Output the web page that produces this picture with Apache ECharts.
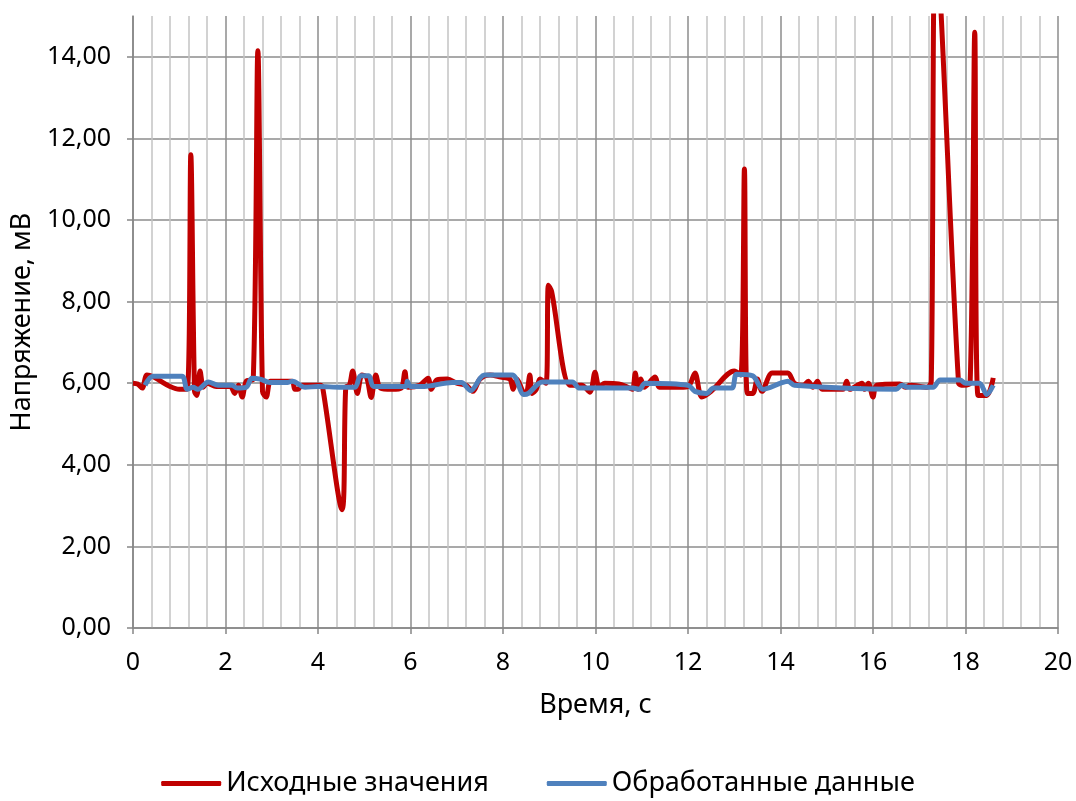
<!DOCTYPE html>
<html lang="ru">
<head>
  <meta charset="UTF-8">
  <title>Напряжение</title>
  <style>
    html, body { margin: 0; padding: 0; background: #fff; }
    #chart { width: 1076px; height: 801px; }
  </style>
</head>
<body>
  <div id="chart"></div>
  <script src="https://cdn.jsdelivr.net/npm/echarts@6/dist/echarts.min.js"></script>
  <script>
    // исходные значения (время, с / напряжение, мВ)
    var rawTime = [0.0, 0.1, 0.2, 0.3, 0.45, 0.6, 0.8, 1.0, 1.17, 1.25, 1.33, 1.38, 1.45, 1.52, 1.6, 1.8,
      2.1, 2.2, 2.28, 2.36, 2.45, 2.6, 2.7, 2.8, 2.88, 2.97, 3.1, 3.44, 3.5, 3.57, 3.65, 3.9, 4.05, 4.1,
      4.52, 4.6, 4.68, 4.75, 4.85, 4.95, 5.05, 5.15, 5.25, 5.35, 5.6, 5.8, 5.88, 5.95, 6.2, 6.38, 6.45,
      6.57, 6.8, 7.0, 7.2, 7.35, 7.5, 7.72, 7.95, 8.15, 8.22, 8.3, 8.43, 8.5, 8.58, 8.63, 8.72, 8.8, 8.93,
      8.98, 9.05, 9.45, 9.7, 9.88, 9.99, 10.08, 10.2, 10.5, 10.7, 10.8, 10.86, 10.92, 10.98, 11.05, 11.29,
      11.38, 11.7, 12.0, 12.15, 12.3, 12.5, 13.0, 13.14, 13.22, 13.28, 13.4, 13.5, 13.6, 13.82, 14.16, 14.3,
      14.5, 14.6, 14.7, 14.8, 14.9, 15.35, 15.43, 15.5, 15.76, 15.82, 15.9, 16.0, 16.08, 16.58, 16.7, 16.8,
      17.17, 17.26, 17.36, 17.85, 17.95, 18.1, 18.2, 18.27, 18.46, 18.6];
    var rawVolt = [6.0, 5.98, 5.88, 6.2, 6.15, 6.05, 5.92, 5.85, 5.85, 11.6, 5.8, 5.7, 6.3, 5.9, 6.0, 5.92,
      5.92, 5.75, 5.95, 5.66, 6.05, 6.1, 14.15, 5.8, 5.66, 6.05, 6.05, 6.05, 5.85, 5.85, 5.95, 5.95, 5.95, 5.9,
      2.9, 5.9, 5.95, 6.3, 5.75, 6.2, 6.15, 5.65, 6.2, 5.88, 5.85, 5.88, 6.28, 5.9, 5.95, 6.12, 5.85,
      6.08, 6.1, 6.0, 5.95, 5.8, 6.1, 6.2, 6.15, 6.1, 5.85, 6.1, 5.8, 5.75, 6.2, 5.75, 5.85, 6.1, 6.0,
      8.4, 8.25, 5.95, 5.95, 5.78, 6.27, 5.9, 6.0, 5.98, 5.9, 5.85, 6.25, 5.85, 6.1, 5.9, 6.15,
      5.9, 5.9, 5.92, 6.25, 5.66, 5.8, 6.3, 6.2, 11.25, 5.75, 5.75, 6.1, 5.8, 6.25, 6.25, 6.0,
      5.95, 6.05, 5.9, 6.05, 5.85, 5.85, 6.05, 5.85, 6.0, 5.85, 6.0, 5.66, 5.95, 5.98, 5.9, 5.95,
      5.9, 6.05, 16.8, 6.0, 5.95, 6.0, 14.6, 5.7, 5.7, 6.13];

    // обработанные данные
    var procTime = [0.26, 0.43, 1.06, 1.17, 1.3, 1.4, 1.63, 1.84, 2.14, 2.25, 2.45, 2.57, 2.75, 2.96, 3.35,
      3.45, 3.72, 4.0, 4.5, 4.8, 4.92, 5.1, 5.2, 5.9, 5.93, 6.0, 6.3, 6.9, 7.1, 7.3, 7.6, 8.2, 8.45, 8.55,
      8.85, 9.5, 9.65, 10.8, 10.95, 11.07, 12.0, 12.15, 12.4, 12.55, 12.95, 13.05, 13.4, 13.62, 14.0, 14.16,
      14.3, 16.5, 16.62, 16.75, 17.3, 17.45, 17.88, 18.0, 18.3, 18.46, 18.6];
    var procVolt = [5.95, 6.17, 6.17, 5.85, 5.9, 5.85, 6.03, 5.95, 5.95, 5.88, 5.9, 6.12, 6.1, 6.02, 6.02,
      6.05, 5.9, 5.92, 5.9, 5.9, 6.18, 6.18, 5.92, 5.92, 6.05, 5.92, 5.92, 6.02, 6.02, 5.82, 6.2, 6.2, 5.72, 5.75,
      6.03, 6.03, 5.88, 5.88, 5.85, 6.0, 5.95, 5.8, 5.75, 5.88, 5.88, 6.22, 6.18, 5.85, 6.0, 6.05,
      5.95, 5.85, 5.95, 5.9, 5.9, 6.08, 6.08, 6.0, 6.0, 5.72, 5.95];

    var xTicks = [0, 20, 2];
    var yTicks = [0, 15, 2];

    function pairs(xs, ys) {
      return xs.map(function (x, i) { return [x, ys[i]]; });
    }

    var font = "'Noto Sans', sans-serif";
    var chart = echarts.init(document.getElementById('chart'));

    var option = {
      animation: false,
      grid: { left: 133, right: 18, top: 16, bottom: 173 },
      legend: {
        top: 765,
        left: 'center',
        icon: 'roundRect',
        itemWidth: 60,
        itemHeight: 5,
        itemGap: 58,
        textStyle: { fontFamily: font, fontSize: 27, color: '#000' },
        data: ['Исходные значения', 'Обработанные данные']
      },
      xAxis: {
        type: 'value',
        min: xTicks[0], max: xTicks[1], interval: xTicks[2],
        name: 'Время, с',
        nameLocation: 'middle',
        nameGap: 64,
        nameTextStyle: { fontFamily: font, fontSize: 27, color: '#000' },
        axisLine: { lineStyle: { color: '#868686', width: 1.5 } },
        axisTick: { show: true, length: 6, lineStyle: { color: '#868686', width: 1.5 } },
        axisLabel: { fontFamily: font, fontSize: 25, color: '#000', margin: 22 },
        splitLine: { show: true, lineStyle: { color: '#8c8c8c', width: 1.5 } },
        minorTick: { show: false, splitNumber: 5 },
        minorSplitLine: { show: true, lineStyle: { color: '#c4c4c4', width: 1.5 } }
      },
      yAxis: {
        type: 'value',
        min: yTicks[0], max: yTicks[1], interval: yTicks[2],
        name: 'Напряжение, мВ',
        nameLocation: 'middle',
        nameGap: 90,
        nameTextStyle: { fontFamily: font, fontSize: 27, color: '#000' },
        axisLine: { show: true, lineStyle: { color: '#868686', width: 1.5 } },
        axisTick: { show: true, length: 6, lineStyle: { color: '#868686', width: 1.5 } },
        axisLabel: {
          fontFamily: font, fontSize: 25, color: '#000', margin: 22,
          showMaxLabel: false,
          formatter: function (v) { return v.toFixed(2).replace('.', ','); }
        },
        splitLine: {
          show: true,
          lineStyle: {
            color: ['#8c8c8c', '#8c8c8c', '#8c8c8c', '#8c8c8c', '#8c8c8c', '#8c8c8c', '#8c8c8c', '#8c8c8c', 'rgba(0,0,0,0)'],
            width: 1.5
          }
        }
      },
      series: [
        {
          name: 'Исходные значения',
          type: 'line',
          symbol: 'none',
          smooth: 0.3,
          clip: true,
          data: pairs(rawTime, rawVolt),
          lineStyle: { color: '#C00000', width: 5 },
          itemStyle: { color: '#C00000' }
        },
        {
          name: 'Обработанные данные',
          type: 'line',
          symbol: 'none',
          smooth: 0.3,
          data: pairs(procTime, procVolt),
          lineStyle: { color: '#4F81BD', width: 5 },
          itemStyle: { color: '#4F81BD' }
        }
      ]
    };

    chart.setOption(option);
  </script>
</body>
</html>
